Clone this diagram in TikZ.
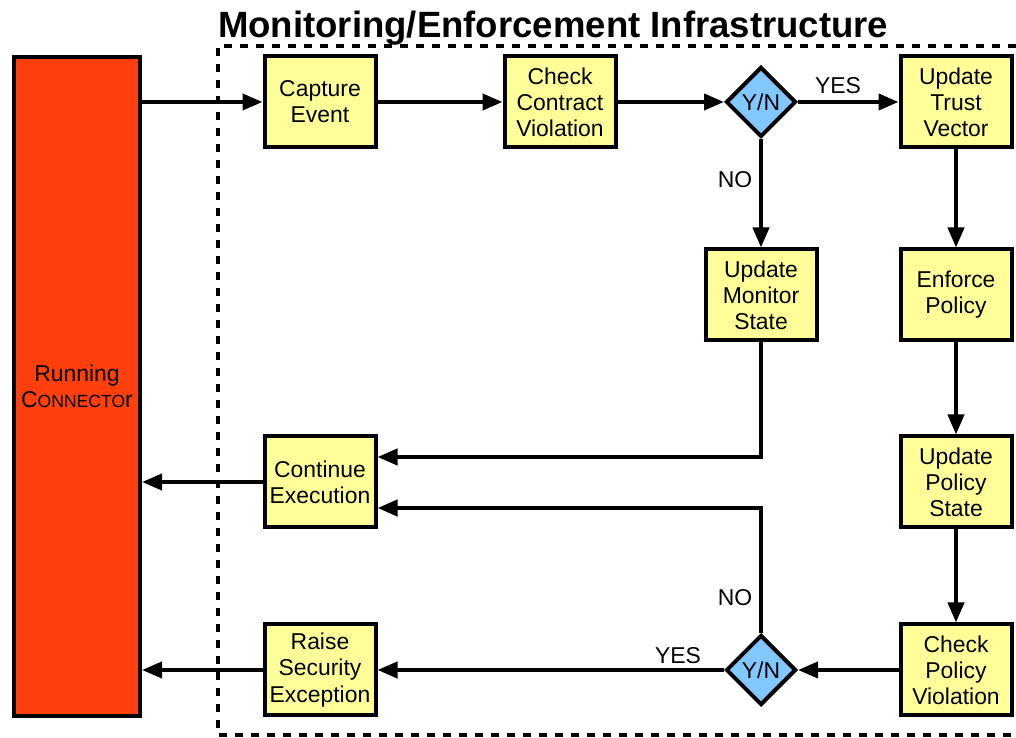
\documentclass[tikz,border=0pt]{standalone}
\usepackage{fontspec}
\setmainfont{Liberation Sans}
\usetikzlibrary{arrows.meta, shapes.geometric}

\definecolor{boxyellow}{HTML}{FFFF99}
\definecolor{decblue}{HTML}{80C8FF}
\definecolor{runred}{HTML}{FF400C}

\begin{document}
\begin{tikzpicture}[
    >={Triangle[length=0.5cm, width=0.4cm]}, % Set default arrow tip style
    every path/.style={line width=0.1cm}, % Thick lines everywhere
    stepbox/.style={draw, fill=boxyellow, align=center, inner sep=0pt,
        minimum width=2.775cm, minimum height=2.275cm,
        font=\fontsize{16.3}{18.6}\selectfont}, % Style for process boxes
    decision/.style={draw, fill=decblue, diamond, aspect=1, inner sep=0pt,
        minimum width=1.75cm, minimum height=1.75cm,
        font=\fontsize{16.3}{18.6}\selectfont}, % Style for Y/N diamonds
    flow/.style={->, line width=0.1cm}, % Style for connectors
    labelstyle/.style={font=\fontsize{16.3}{18.6}\selectfont} % Style for YES/NO
]

    % Page size
    \useasboundingbox (0,0) rectangle (25.4,18.45);

    % Title and dashed frame
    \node[anchor=base, font=\fontsize{26}{29}\selectfont\bfseries] (title) at (13.83,17.5) {Monitoring/Enforcement Infrastructure};
    \draw[dash pattern=on 0.2cm off 0.2cm] (25.4,17.3) -- (5.45,17.3) -- (5.45,0.075) -- (25.4,0.075);

    % Running connector
    \node[draw, fill=runred, minimum width=3.15cm, minimum height=16.475cm, inner sep=0pt,
        align=center, font=\fontsize{16.3}{18.6}\selectfont] (run) at (1.925,8.7875)
        {Running\\C{\fontsize{12.5}{15}\selectfont ONNECTO}r};

    % Top row
    \node[stepbox] (capture) at (8.0,15.9) {Capture\\Event};
    \node[stepbox] (checkcv) at (14.0,15.9) {Check\\Contract\\Violation};
    \node[decision] (yn1) at (19.025,15.9) {Y/N};
    \node[stepbox] (trust) at (23.9,15.9) {Update\\Trust\\Vector};

    % Middle rows
    \node[stepbox] (monitor) at (19.025,11.075) {Update\\Monitor\\State};
    \node[stepbox] (enforce) at (23.9,11.075) {Enforce\\Policy};
    \node[stepbox] (continue) at (8.0,6.4) {Continue\\Execution};
    \node[stepbox] (pstate) at (23.9,6.4) {Update\\Policy\\State};

    % Bottom row
    \node[stepbox] (raise) at (8.0,1.7) {Raise\\Security\\Exception};
    \node[decision] (yn2) at (19.025,1.7) {Y/N};
    \node[stepbox] (checkpv) at (23.9,1.7) {Check\\Policy\\Violation};

    % Connectors
    \draw[flow] (run.east |- capture) -- (capture);
    \draw[flow] (capture) -- (checkcv);
    \draw[flow] (checkcv) -- (yn1);
    \draw[flow] (yn1) -- (trust);
    \draw[flow] (yn1) -- (monitor);
    \draw[flow] (trust) -- (enforce);
    \draw[flow] (enforce) -- (pstate);
    \draw[flow] (pstate) -- (checkpv);
    \draw[flow] (checkpv) -- (yn2);
    \draw[flow] (yn2) -- (raise);
    \draw[flow] (monitor.south) |- ([yshift=0.625cm]continue.east);
    \draw[flow] (yn2.north) |- ([yshift=-0.65cm]continue.east);
    \draw[flow] (continue) -- (run.east |- continue);
    \draw[flow] (raise) -- (run.east |- raise);

    % Branch labels
    \node[labelstyle] (yes1) at (20.95,16.3) {YES};
    \node[labelstyle] (no1) at (18.375,13.95) {NO};
    \node[labelstyle] (no2) at (18.375,3.5) {NO};
    \node[labelstyle] (yes2) at (16.95,2.05) {YES};

\end{tikzpicture}
\end{document}
